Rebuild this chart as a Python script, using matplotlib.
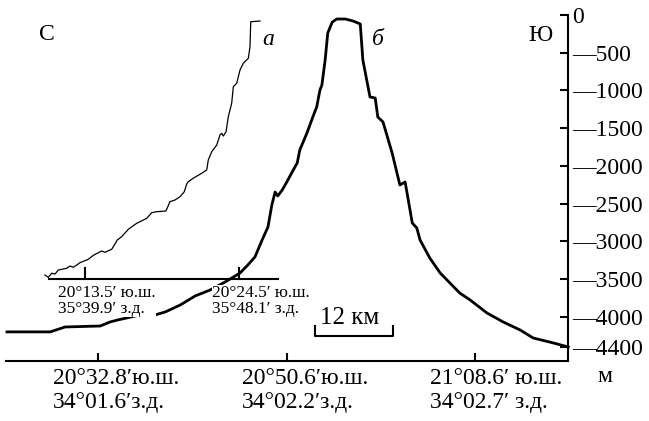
import matplotlib
matplotlib.use("Agg")
import matplotlib.pyplot as plt

plt.rcParams['font.family'] = ['Liberation Serif', 'DejaVu Serif']

# profile б (thick): distance, km / depth, m
dist_b = [0.15, 6.8, 9.1, 14.5, 16.0, 17.2, 20.6, 22.9, 24.5, 26.8, 29.1, 31.4,
          33.7, 36.0, 37.2, 38.3, 39.4, 40.3, 40.9, 41.4, 41.8, 42.5, 43.2, 44.2,
          44.8, 45.2, 46.3, 47.2, 47.8, 48.3, 48.6, 49.1, 49.5, 50.2, 50.9, 52.2,
          53.4, 54.5, 54.9, 56.0, 56.8, 57.2, 58.0, 59.4, 60.6, 61.4, 61.7, 62.5,
          63.2, 63.7, 65.2, 66.8, 69.8, 71.4, 74.0, 76.5, 79.1, 81.1, 84.2, 86.5]
depth_b = [-4200, -4200, -4135, -4122, -4069, -4042, -3976, -3976, -3936, -3844,
           -3724, -3645, -3539, -3420, -3314, -3207, -2982, -2810, -2518, -2346,
           -2399, -2319, -2213, -2054, -1962, -1789, -1564, -1352, -1219, -994,
           -928, -596, -239, -93, -53, -53, -80, -119, -596, -1087, -1100, -1352,
           -1418, -1829, -2253, -2213, -2359, -2757, -2823, -2982, -3221, -3420,
           -3685, -3777, -3950, -4069, -4175, -4281, -4347, -4400]

# profile а (thin)
dist_a = [6.0, 6.51, 7.03, 7.54, 8.05, 9.34, 9.85, 10.35, 10.88, 11.38, 12.66,
          13.43, 14.72, 15.23, 16.26, 16.77, 17.12, 17.8, 18.82, 20.1, 21.65,
          22.42, 23.18, 24.6, 25.23, 26.0, 26.77, 27.43, 27.8, 28.05, 28.8, 30.1,
          30.88, 31.12, 31.65, 32.42, 32.92, 33.18, 33.43, 33.85, 34.2, 34.72,
          34.97, 35.49, 36.0, 36.51, 37.28, 37.54, 37.65, 39.08]
depth_a = [-3446, -3477, -3423, -3433, -3380, -3357, -3327, -3344, -3314, -3283,
           -3238, -3185, -3128, -3145, -3105, -3035, -2982, -2938, -2840, -2761,
           -2695, -2620, -2607, -2598, -2475, -2452, -2408, -2342, -2240, -2209,
           -2164, -2098, -2054, -1922, -1812, -1723, -1590, -1568, -1604, -1547,
           -1348, -1170, -950, -905, -729, -640, -574, -420, -89, -80]

depth_ticks = [0, -500, -1000, -1500, -2000, -2500, -3000, -3500, -4000, -4400]
depth_labels = ['0'] + ['\u2014' + str(-d) for d in depth_ticks[1:]]

x_ticks = [14.15, 43.2, 72.15]
x_labels = ['20°32.8′ю.ш.\n34°01.6′з.д.',
            '20°50.6′ю.ш.\n34°02.2′з.д.',
            '21°08.6′ ю.ш.\n34°02.7′ з.д.']

# inner scale of profile а
inset_depth = -3500
inset_span = [6.6, 41.8]
inset_ticks = [12.15, 35.85]
inset_labels = ['20°13.5′ ю.ш.\n35°39.9′ з.д.',
                '20°24.5′ ю.ш.\n35°48.1′ з.д.']

scale_start = 47.5
scale_len = 12

fig = plt.figure(figsize=(6.49, 4.21), dpi=100)
ax = fig.add_axes([6 / 649, 60 / 421, 562 / 649, 346 / 421])
ax.set_xlim(0, 86.46)
ax.set_ylim(-4586, 0)

ax.plot(dist_b, depth_b, color='black', lw=2.0, clip_on=False, zorder=3)
ax.plot(dist_a, depth_a, color='black', lw=0.9, clip_on=False, zorder=3)

# spines and ticks
for s in ['left', 'top']:
    ax.spines[s].set_visible(False)
for s in ['bottom', 'right']:
    ax.spines[s].set_linewidth(1.5)
ax.yaxis.tick_right()
ax.set_yticks(depth_ticks)
ax.set_yticklabels(depth_labels, fontsize=17)
ax.set_xticks(x_ticks)
ax.set_xticklabels([])
ax.tick_params(axis='both', direction='in', length=6, width=1.5)
ax.tick_params(axis='y', pad=3)

for xt, lab in zip(x_ticks, x_labels):
    ax.annotate(lab, xy=(xt, 0), xycoords=('data', 'axes fraction'),
                xytext=(-32.5, -5), textcoords='offset points',
                ha='left', va='top', fontsize=17, linespacing=1.2)

# inset axis
ax.plot(inset_span, [inset_depth, inset_depth], color='black', lw=1.5, zorder=4)
for xt, lab in zip(inset_ticks, inset_labels):
    ax.plot([xt, xt], [inset_depth, inset_depth + 150], color='black', lw=1.5, zorder=4)
    ax.annotate(lab, xy=(xt, inset_depth), xytext=(-19.5, -4),
                textcoords='offset points', ha='left', va='top', fontsize=12.5,
                linespacing=1.05, zorder=5,
                bbox=dict(facecolor='white', edgecolor='none', pad=0))

# scale bar
sb_y = -4255
ax.plot([scale_start, scale_start, scale_start + scale_len, scale_start + scale_len],
        [sb_y + 130, sb_y, sb_y, sb_y + 130], color='black', lw=1.5)
ax.text(scale_start + scale_len / 2 - 0.6, -4016, '12 км', fontsize=18,
        ha='center', va='center')

ax.text(6.3, -265, 'С', fontsize=17, ha='center', va='center')
ax.text(82.2, -278, 'Ю', fontsize=17, ha='center', va='center')
ax.text(40.3, -331, 'а', fontsize=17, style='italic', ha='center', va='center')
ax.text(57.2, -331, 'б', fontsize=17, style='italic', ha='center', va='center')
fig.text(605 / 649, 1 - 377 / 421, 'м', fontsize=17, ha='center', va='center')

fig.savefig('out.png', dpi=100)
